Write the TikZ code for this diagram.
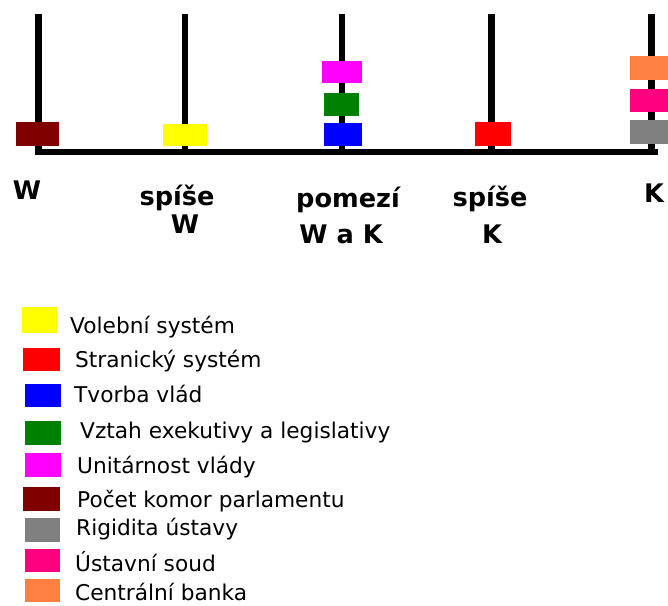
\documentclass[tikz,border=0pt]{standalone}
\usepackage{fontspec}
\setmainfont{DejaVu Sans}
\definecolor{cDarkRed}{HTML}{800000}
\definecolor{cYellow}{HTML}{FFFF00}
\definecolor{cMagenta}{HTML}{FF00FF}
\definecolor{cGreen}{HTML}{008000}
\definecolor{cBlue}{HTML}{0000FF}
\definecolor{cRed}{HTML}{FF0000}
\definecolor{cOrange}{HTML}{FF8040}
\definecolor{cPink}{HTML}{FF0080}
\definecolor{cGray}{HTML}{808080}
\begin{document}
\begin{tikzpicture}[x=1pt,y=-1pt,
  axisline/.style={line width=6.5pt, black},
  bar/.style={draw=none, inner sep=0pt, minimum height=24pt},
  lbl/.style={font=\fontsize{25.6}{30}\selectfont\bfseries, inner sep=0pt, anchor=base},
  legbox/.style={draw=none, inner sep=0pt, minimum width=36pt, minimum height=24pt},
  legtxt/.style={font=\fontsize{21.7}{26}\selectfont, inner sep=0pt, anchor=base west}]
\useasboundingbox (0,0) rectangle (668,605);
% axis
\coordinate (b0) at (38.7,152);
\coordinate (b1) at (185,152);
\coordinate (b2) at (342,152);
\coordinate (b3) at (491.7,152);
\coordinate (b4) at (651.7,152);
\coordinate (t0) at (38.7,14);
\coordinate (t1) at (185,14);
\coordinate (t2) at (342,14);
\coordinate (t3) at (491.7,14);
\coordinate (t4) at (651.7,14);
\coordinate (axend) at (658,152);
\draw[axisline] (t0) -- (b0);
\draw[axisline] (t1) -- (b1);
\draw[axisline] (t2) -- (b2);
\draw[axisline] (t3) -- (b3);
\draw[axisline] (t4) -- (b4);
\draw[axisline] ([xshift=-3.25pt]b0) -- (axend);
% bars
\node[bar, fill=cDarkRed, minimum width=43pt] (pocet) at (37.5,134) {};
\node[bar, fill=cYellow, minimum width=44pt, minimum height=22pt] (volebni) at (185,135) {};
\node[bar, fill=cMagenta, minimum width=40pt, minimum height=22pt] (unitar) at (342,72) {};
\node[bar, fill=cGreen, minimum width=35pt, minimum height=23pt] (vztah) at (341.5,104.5) {};
\node[bar, fill=cBlue, minimum width=38pt, minimum height=23pt] (tvorba) at (343,134.5) {};
\node[bar, fill=cRed, minimum width=36pt] (stranicky) at (493,134) {};
\node[bar, fill=cOrange, minimum width=40pt] (banka) at (650,68) {};
\node[bar, fill=cPink, minimum width=40pt, minimum height=23pt] (soud) at (650,100.5) {};
\node[bar, fill=cGray, minimum width=40pt] (rigid) at (650,132) {};
% axis labels
\node[lbl] (lW) at (27,199) {W};
\node[lbl] (lsW1) at (177,205) {spíše};
\node[lbl] (lsW2) at (185,233) {W};
\node[lbl] (lp1) at (348,207) {pomezí};
\node[lbl] (lp2) at (341,243) {W a K};
\node[lbl] (lsK1) at (490,206) {spíše};
\node[lbl] (lsK2) at (492,243) {K};
\node[lbl] (lK) at (654,202) {K};
% legend
\node[legbox, fill=cYellow, minimum width=35pt, minimum height=26pt] (k1) at (39.5,320) {};
\node[legtxt] (t1l) at (70,333) {Volební systém};
\node[legbox, fill=cRed, minimum width=37pt, minimum height=23pt] (k2) at (41.5,359.5) {};
\node[legtxt] (t2l) at (75,367) {Stranický systém};
\node[legbox, fill=cBlue, minimum width=36pt, minimum height=23pt] (k3) at (43,395.5) {};
\node[legtxt] (t3l) at (74,402) {Tvorba vlád};
\node[legbox, fill=cGreen, minimum width=36pt, minimum height=24pt] (k4) at (43,433) {};
\node[legtxt] (t4l) at (80,438) {Vztah exekutivy a legislativy};
\node[legbox, fill=cMagenta, minimum width=36pt, minimum height=24pt] (k5) at (43,465) {};
\node[legtxt] (t5l) at (77,473) {Unitárnost vlády};
\node[legbox, fill=cDarkRed, minimum width=37pt, minimum height=24pt] (k6) at (41.5,499) {};
\node[legtxt] (t6l) at (77,507) {Počet komor parlamentu};
\node[legbox, fill=cGray, minimum width=35pt, minimum height=24pt] (k7) at (42.5,530) {};
\node[legtxt] (t7l) at (76,535) {Rigidita ústavy};
\node[legbox, fill=cPink, minimum width=35pt, minimum height=23pt] (k8) at (42.5,560.5) {};
\node[legtxt] (t8l) at (75,571) {Ústavní soud};
\node[legbox, fill=cOrange, minimum width=35pt, minimum height=23pt] (k9) at (42.5,590.5) {};
\node[legtxt] (t9l) at (75,600) {Centrální banka};
\end{tikzpicture}
\end{document}
